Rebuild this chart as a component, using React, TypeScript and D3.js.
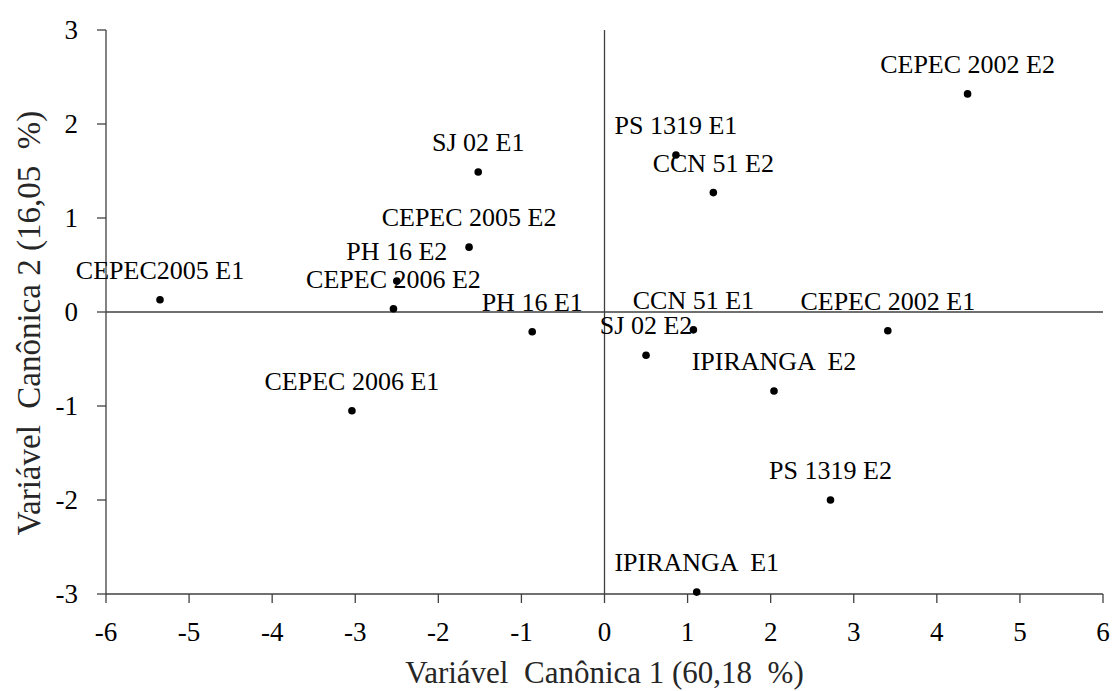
import React from "react";
import * as d3 from "d3";

// Canonical variable scores for each genotype × environment
const labels = [
  "CEPEC 2002 E2",
  "PS 1319 E1",
  "CCN 51 E2",
  "SJ 02 E1",
  "CEPEC 2005 E2",
  "PH 16 E2",
  "CEPEC2005 E1",
  "CEPEC 2006 E2",
  "PH 16 E1",
  "CCN 51 E1",
  "CEPEC 2002 E1",
  "SJ 02 E2",
  "IPIRANGA  E2",
  "CEPEC 2006 E1",
  "PS 1319 E2",
  "IPIRANGA  E1",
];
const can1 = [4.37, 0.86, 1.31, -1.52, -1.63, -2.5, -5.35, -2.54, -0.87, 1.07, 3.41, 0.5, 2.04, -3.04, 2.72, 1.11];
const can2 = [2.32, 1.67, 1.27, 1.49, 0.69, 0.33, 0.13, 0.035, -0.21, -0.19, -0.2, -0.46, -0.84, -1.05, -2.0, -2.98];

const xTicks = [-6, -5, -4, -3, -2, -1, 0, 1, 2, 3, 4, 5, 6];
const yTicks = [-3, -2, -1, 0, 1, 2, 3];

const xTitle = "Variável  Canônica 1 (60,18  %)";
const yTitle = "Variável  Canônica 2 (16,05  %)";

const W = 1112;
const H = 691;
const FONT = "'Liberation Serif', 'Times New Roman', serif";
const AXIS = "#404040";

export default function App() {
  const x = d3.scaleLinear().domain([-6, 6]).range([106, 1103]);
  const y = d3.scaleLinear().domain([-3, 3]).range([594, 30]);

  const points = labels.map((name, i) => ({ name, cx: x(can1[i]), cy: y(can2[i]) }));

  return (
    <svg
      width={W}
      height={H}
      style={{ position: "absolute", left: 0, top: 0, background: "#fff" }}
      fontFamily={FONT}
    >
      {/* left and bottom axes */}
      <line x1={x(-6)} x2={x(-6)} y1={y(3)} y2={y(-3)} stroke={AXIS} strokeWidth={1.3} />
      <line x1={x(-6)} x2={x(6)} y1={y(-3)} y2={y(-3)} stroke={AXIS} strokeWidth={1.3} />
      {/* origin cross-hair */}
      <line x1={x(-6)} x2={x(6)} y1={y(0)} y2={y(0)} stroke={AXIS} strokeWidth={1.3} />
      <line x1={x(0)} x2={x(0)} y1={y(3)} y2={y(-3)} stroke={AXIS} strokeWidth={1.3} />

      {yTicks.map((t) => (
        <g key={"y" + t}>
          <line x1={x(-6) - 9} x2={x(-6)} y1={y(t)} y2={y(t)} stroke={AXIS} strokeWidth={1.3} />
          <text x={78} y={y(t)} dy="0.35em" textAnchor="end" fontSize={27} fill="#000">
            {t}
          </text>
        </g>
      ))}
      {xTicks.map((t) => (
        <g key={"x" + t}>
          <line x1={x(t)} x2={x(t)} y1={y(-3)} y2={y(-3) + 9} stroke={AXIS} strokeWidth={1.3} />
          <text x={x(t)} y={y(-3) + 47} textAnchor="middle" fontSize={27} fill="#000">
            {t}
          </text>
        </g>
      ))}

      <text x={x(0)} y={683} textAnchor="middle" fontSize={31} fill="#262626" style={{ whiteSpace: "pre" }}>
        {xTitle}
      </text>
      <text
        transform={`translate(40, 323) rotate(-90)`}
        textAnchor="middle"
        fontSize={33}
        fill="#262626"
        style={{ whiteSpace: "pre" }}
      >
        {yTitle}
      </text>

      {points.map((p) => (
        <g key={p.name}>
          <circle cx={p.cx} cy={p.cy} r={3.8} fill="#000" />
          <text
            x={p.cx}
            y={p.cy - 21}
            textAnchor="middle"
            fontSize={26}
            fill="#000"
            style={{ whiteSpace: "pre" }}
          >
            {p.name}
          </text>
        </g>
      ))}
    </svg>
  );
}
